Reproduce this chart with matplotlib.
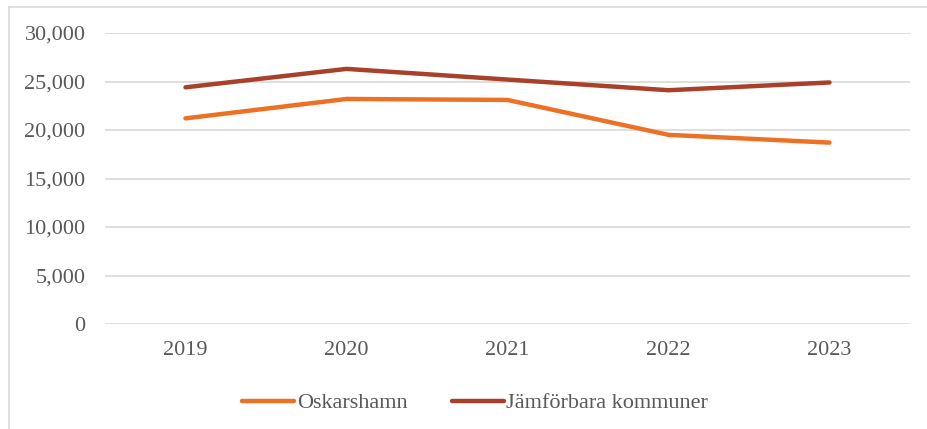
import matplotlib.pyplot as plt
from matplotlib.lines import Line2D
from matplotlib.ticker import FuncFormatter

# Data
years = ['2019', '2020', '2021', '2022', '2023']
oskarshamn = [21200, 23200, 23100, 19500, 18700]
jamforbara = [24400, 26300, 25200, 24100, 24900]

plt.rcParams['font.family'] = ['Liberation Serif', 'DejaVu Serif']
text_color = '#595959'

fig = plt.figure(figsize=(9.28, 4.29), dpi=100)
ax = fig.add_axes([105 / 928, 1 - 324 / 429, 805 / 928, 291 / 429])

x = range(len(years))
ax.plot(x, oskarshamn, color='#ED7125', lw=3.2, solid_capstyle='round',
        solid_joinstyle='round', label='Oskarshamn', zorder=3)
ax.plot(x, jamforbara, color='#A8402A', lw=3.2, solid_capstyle='round',
        solid_joinstyle='round', label='Jämförbara kommuner', zorder=3)

ax.set_xlim(-0.5, len(years) - 0.5)
ax.set_ylim(0, 30000)
ax.set_yticks(range(0, 30001, 5000))
ax.yaxis.set_major_formatter(FuncFormatter(lambda v, p: f'{int(v):,}'))
ax.set_xticks(list(x))
ax.set_xticklabels(years)

ax.grid(axis='y', color='#d9d9d9', lw=1.2)
ax.set_axisbelow(True)
for s in ax.spines.values():
    s.set_visible(False)
ax.tick_params(axis='both', length=0, labelsize=16, colors=text_color)
ax.tick_params(axis='y', pad=14)
ax.tick_params(axis='x', pad=12)

# Legend
leg = fig.legend(loc='center', bbox_to_anchor=(0.512, 1 - 403 / 429), ncol=2,
                 frameon=False, fontsize=16, handlelength=2.35, handletextpad=0.1,
                 columnspacing=2.0)
for t in leg.get_texts():
    t.set_color(text_color)

# Chart border (top and left visible)
fig.add_artist(Line2D([9 / 928, 1], [1 - 7 / 429, 1 - 7 / 429],
                      transform=fig.transFigure, color='#d9d9d9', lw=1.2))
fig.add_artist(Line2D([9 / 928, 9 / 928], [0, 1 - 7 / 429],
                      transform=fig.transFigure, color='#d9d9d9', lw=1.2))

fig.savefig('out.png', dpi=100)
